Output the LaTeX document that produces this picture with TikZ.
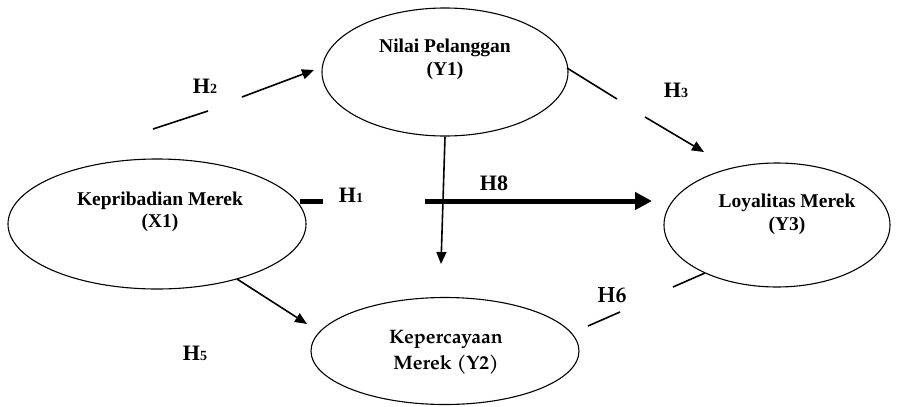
\documentclass[tikz,border=0pt]{standalone}
\usepackage{fontspec}
\setmainfont{Liberation Serif}
\newfontfamily\pala{TeX Gyre Pagella}
\usetikzlibrary{arrows.meta,shapes.geometric}

\tikzset{
  construct/.style={draw, ellipse, line width=1.1pt, inner sep=0pt},
  lbl/.style={anchor=base, inner sep=0pt, font=\bfseries\fontsize{19.5}{22}\selectfont},
  lblp/.style={anchor=base, inner sep=0pt, font=\pala\bfseries\fontsize{19.5}{22}\selectfont},
  hyp/.style={anchor=base, inner sep=0pt, font=\bfseries\fontsize{22}{24}\selectfont},
  hypp/.style={anchor=base, inner sep=0pt, font=\pala\bfseries\fontsize{22}{24}\selectfont},
  link/.style={line width=1.6pt},
  path/.style={line width=1.6pt, -{Triangle[length=12pt,width=10pt]}},
  bold path/.style={line width=5pt, -{Triangle[length=17pt,width=17pt]}},
}
\newcommand{\sub}[1]{{\fontsize{14}{16}\selectfont #1}}

\begin{document}
\begin{tikzpicture}[x=1pt,y=-1pt]
  \useasboundingbox (0,0) rectangle (906,407);

  % constructs
  \node[construct, minimum width=298pt, minimum height=130pt] (X1) at (157,224) {};
  \node[construct, minimum width=246pt, minimum height=128pt] (Y1) at (445,72) {};
  \node[construct, minimum width=226pt, minimum height=124pt] (Y3) at (777,225) {};
  \node[construct, minimum width=268pt, minimum height=107pt] (Y2) at (445,351) {};

  % construct names
  \node[lbl] (X1a) at (160,205) {Kepribadian Merek};
  \node[lbl] (X1b) at (160,227) {(X1)};
  \node[lbl] (Y1a) at (445,52) {Nilai Pelanggan};
  \node[lbl] (Y1b) at (445,75) {(Y1)};
  \node[lbl] (Y3a) at (787,207) {Loyalitas Merek};
  \node[lbl] (Y3b) at (787,230) {(Y3)};
  \node[lblp] (Y2a) at (446,343) {Kepercayaan};
  \node[lblp] (Y2b) at (446,369) {Merek (Y2)};

  % hypothesis labels
  \node[hyp] (h2) at (205,93) {H\sub{2}};
  \node[hyp] (h3) at (676,97) {H\sub{3}};
  \node[hyp] (h1) at (351,202) {H\sub{1}};
  \node[hyp] (h8) at (494,190) {H8};
  \node[hyp] (h5) at (195,360) {H\sub{5}};
  \node[hypp] (h6) at (612,302) {H6};

  % segment end points
  \coordinate (a1) at (153,129);  \coordinate (a2) at (208,111);
  \coordinate (a3) at (242,97);   \coordinate (a4) at (314,70);
  \coordinate (b1) at (567,68);   \coordinate (b2) at (617,99);
  \coordinate (b3) at (645,117);  \coordinate (b4) at (704,152);
  \coordinate (c1) at (300,201);  \coordinate (c2) at (323,201);
  \coordinate (c3) at (425,201);  \coordinate (c4) at (652,201);
  \coordinate (d1) at (445,137);  \coordinate (d2) at (441,264);
  \coordinate (e1) at (237,279);  \coordinate (e2) at (307,324);
  \coordinate (f1) at (705,273);  \coordinate (f2) at (673,287);
  \coordinate (f3) at (620,312);  \coordinate (f4) at (588,326);

  % H2: X1 -> Y1
  \draw[link] (a1) -- (a2);
  \draw[path] (a3) -- (a4);
  % H3: Y1 -> Y3
  \draw[link] (b1) -- (b2);
  \draw[path] (b3) -- (b4);
  % H1 / H8: X1 -> Y3
  \draw[line width=5pt] (c1) -- (c2);
  \draw[bold path] (c3) -- (c4);
  % Y1 -> Y2
  \draw[path] (d1) -- (d2);
  % H5: X1 -> Y2
  \draw[path] (e1) -- (e2);
  % H6: Y2 -- Y3
  \draw[link] (f1) -- (f2);
  \draw[link] (f3) -- (f4);
\end{tikzpicture}
\end{document}
